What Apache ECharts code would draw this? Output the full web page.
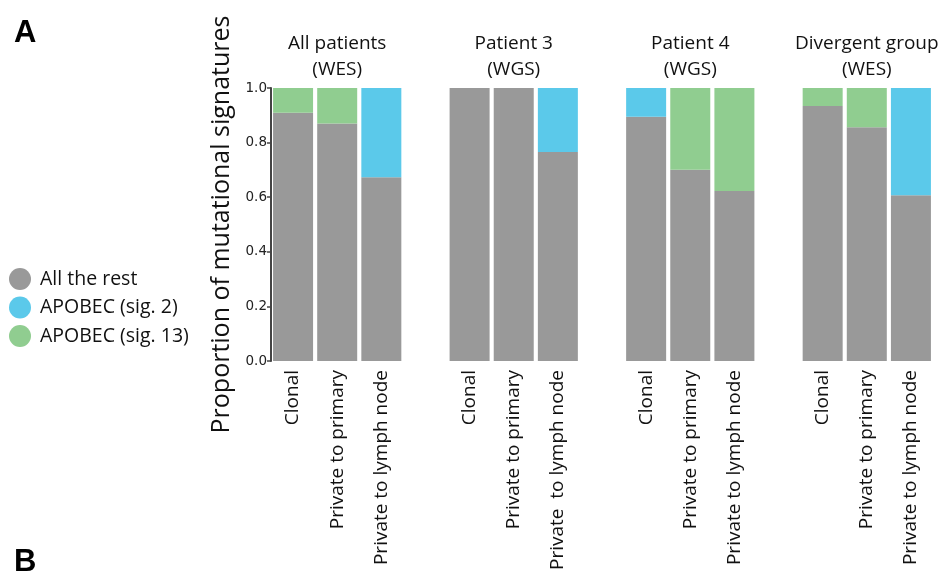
<!DOCTYPE html>
<html>
<head>
<meta charset="utf-8">
<script src="https://cdn.jsdelivr.net/npm/echarts@6/dist/echarts.min.js"></script>
<style>
  html, body { margin: 0; padding: 0; background: #fff; }
  #chart { width: 944px; height: 573px; }
</style>
</head>
<body>
<div id="chart"></div>
<script>
// Bar slots: four groups of three, separated by one empty slot each
const categories = [
  'Clonal', 'Private to primary', 'Private to lymph node', '',
  'Clonal', 'Private to primary', 'Private  to lymph node', '',
  'Clonal', 'Private to primary', 'Private to lymph node', '',
  'Clonal', 'Private to primary', 'Private to lymph node'
];
const groupTitles = [
  '', 'All patients\n(WES)', '', '',
  '', 'Patient 3\n(WGS)', '', '',
  '', 'Patient 4\n(WGS)', '', '',
  '', 'Divergent group\n(WES)', ''
];
const allTheRest = [0.909, 0.870, 0.673, '-', 1.0, 1.0, 0.766, '-', 0.895, 0.701, 0.623, '-', 0.934, 0.856, 0.607];
const apobecSig2 = [0, 0, 0.327, '-', 0, 0, 0.234, '-', 0.105, 0, 0, '-', 0, 0, 0.393];
const apobecSig13 = [0.091, 0.130, 0, '-', 0, 0, 0, '-', 0, 0.299, 0.377, '-', 0.066, 0.144, 0];
const yTicks = { min: 0, max: 1, interval: 0.2 };

const colors = { rest: '#999999', sig2: '#5bc9ea', sig13: '#90cd90' };
const font = 'Open Sans';

const chart = echarts.init(document.getElementById('chart'), null, { renderer: 'canvas' });

function barSeries(name, data, color) {
  return {
    name: name,
    type: 'bar',
    stack: 'sig',
    data: data,
    barWidth: 40,
    xAxisIndex: 0,
    itemStyle: { color: color },
    emphasis: { disabled: true }
  };
}

chart.setOption({
  animation: false,
  textStyle: { fontFamily: font },
  grid: { left: 271, right: 11, top: 88, bottom: 211, containLabel: false },
  legend: {
    orient: 'vertical',
    left: 4,
    top: 263,
    icon: 'circle',
    itemWidth: 30,
    itemHeight: 22,
    itemGap: 6.5,
    textStyle: { fontFamily: font, fontSize: 19.5, color: '#111' },
    data: ['All the rest', 'APOBEC (sig. 2)', 'APOBEC (sig. 13)']
  },
  xAxis: [
    {
      type: 'category',
      data: categories,
      position: 'bottom',
      axisLine: { show: false },
      axisTick: { show: false },
      axisLabel: {
        interval: 0,
        rotate: 90,
        margin: 9,
        fontFamily: font,
        fontSize: 19,
        color: '#111'
      }
    },
    {
      type: 'category',
      data: groupTitles,
      position: 'top',
      axisLine: { show: false },
      axisTick: { show: false },
      axisLabel: {
        interval: 0,
        margin: 6,
        fontFamily: font,
        fontSize: 19,
        lineHeight: 25.5,
        color: '#111'
      }
    }
  ],
  yAxis: {
    type: 'value',
    min: yTicks.min,
    max: yTicks.max,
    interval: yTicks.interval,
    name: 'Proportion of mutational signatures',
    nameLocation: 'middle',
    nameGap: 30,
    nameTextStyle: { fontFamily: font, fontSize: 25, color: '#111' },
    axisLine: { show: true, lineStyle: { color: '#444', width: 2 } },
    axisTick: { show: true, inside: false, length: 4, lineStyle: { color: '#444', width: 1.5 } },
    axisLabel: {
      margin: 4,
      fontFamily: 'DejaVu Sans',
      fontSize: 13.5,
      color: '#222',
      formatter: v => v.toFixed(1)
    },
    splitLine: { show: false }
  },
  graphic: [
    { type: 'text', left: 14, top: 18, style: { text: 'A', font: 'bold 31px Liberation Sans', fill: '#000' } },
    { type: 'text', left: 14, top: 547, style: { text: 'B', font: 'bold 31px Liberation Sans', fill: '#000' } }
  ],
  series: [
    barSeries('All the rest', allTheRest, colors.rest),
    barSeries('APOBEC (sig. 2)', apobecSig2, colors.sig2),
    barSeries('APOBEC (sig. 13)', apobecSig13, colors.sig13)
  ]
});
</script>
</body>
</html>
